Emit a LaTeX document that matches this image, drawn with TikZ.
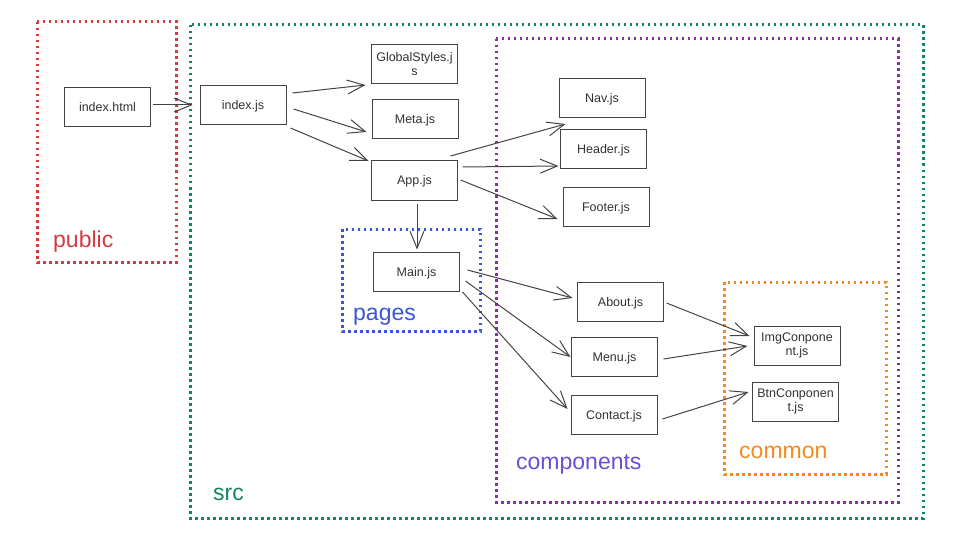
\documentclass[tikz,border=0pt]{standalone}
\usepackage{fontspec}
\setmainfont{Liberation Sans}
\usepackage{tikz}
\usetikzlibrary{
  positioning,
  calc,
  arrows.meta
}
\definecolor{publicred}{HTML}{D63A3F}
\definecolor{srcgreen}{HTML}{11875F}
\definecolor{pagesblue}{HTML}{3A55D8}
\definecolor{compviolet}{HTML}{8C2EA9}
\definecolor{complabel}{HTML}{6B4ED6}
\definecolor{commonorange}{HTML}{F5891D}
\definecolor{boxgray}{HTML}{444444}
\tikzset{jsbox/.style={
  draw=boxgray, line width=1pt,
  fill=white,
  text=black!80,
  minimum width=86pt, minimum height=39pt,
  inner sep=0pt, align=center,
  font=\fontsize{12.5}{13.5}\selectfont
}}
\tikzset{jsfile/.style={
  jsbox,
  text height=11pt, text depth=2pt
}}
\tikzset{group/.style={
  line width=3pt,
  dash pattern=on 2.5pt off 3.5pt
}}
\tikzset{grouplabel/.style={
  anchor=base west, inner sep=0pt,
  font=\fontsize{23}{26}\selectfont
}}
\tikzset{dep/.style={
  draw=boxgray, line width=1pt,
  -{Straight Barb[length=17pt,width=14pt,line width=1pt]}
}}

\begin{document}
\begin{tikzpicture}[x=1pt,y=-1pt]
  \useasboundingbox (0,0) rectangle (960,540);
  \draw [group, publicred] (37,22) rectangle (176,262);
  \draw [group, srcgreen] (190,25) rectangle (923,518);
  \draw [group, compviolet] (496,39) rectangle (898,502);
  \draw [group, pagesblue] (342,229) rectangle (480,331);
  \draw [group, commonorange] (724,282) rectangle (886,474);
  \node [grouplabel, text=publicred] (publiclabel) at (53,247) {public};
  \node [grouplabel, text=srcgreen] (srclabel) at (213,500) {src};
  \node [grouplabel, text=complabel] (complbl) at (516,469) {components};
  \node [grouplabel, text=pagesblue] (pageslabel) at (353,320) {pages};
  \node [grouplabel, text=commonorange] (commonlabel) at (739,458) {common};

  \node [jsfile] (indexhtml) at (107.5,107.5) {index.html};
  \node [jsfile] (indexjs) at (243,105.5) {index.js};
  \node [jsbox] (globalstyles) at (414.5,64) {GlobalStyles.j\\s};
  \node [jsfile] (meta) at (415,119.5) {Meta.js};
  \node [jsfile] (app) at (414.5,180.5) {App.js};
  \node [jsfile] (mainjs) at (416.5,271.5) {Main.js};
  \node [jsfile] (nav) at (602,98.5) {Nav.js};
  \node [jsfile] (header) at (603.5,149.5) {Header.js};
  \node [jsfile] (footer) at (606,206.5) {Footer.js};
  \node [jsfile] (about) at (620.5,301.5) {About.js};
  \node [jsfile] (menu) at (614.5,356.5) {Menu.js};
  \node [jsfile] (contact) at (614,414.5) {Contact.js};
  \node [jsbox] (imgcomp) at (797,345.5) {ImgConpone\\nt.js};
  \node [jsbox] (btncomp) at (795.5,401.5) {BtnConponen\\t.js};

  \draw [dep] ($(indexhtml.east)+(1.5,-2.5)$) -- ($(indexjs.west)+(-7,-0.5)$);
  \draw [dep] ($(indexjs.east)+(6,-12.5)$) -- ($(globalstyles.west)+(-5.5,21)$);
  \draw [dep] ($(indexjs.east)+(7,3.5)$) -- ($(meta.west)+(-5,12.5)$);
  \draw [dep] ($(indexjs.east)+(4,22.5)$) -- ($(app.west)+(-2.5,-19.5)$);
  \draw [dep] ($(app.east)+(-7.5,-24.5)$) -- ($(nav.west)+(7,25.5)$);
  \draw [dep] ($(app.east)+(4.5,-13.5)$) -- ($(header.west)+(-1.5,16.5)$);
  \draw [dep] ($(app.east)+(2.5,-0.5)$) -- ($(footer.west)+(-5,12.5)$);
  \draw [dep] ($(app.south)+(2.5,3)$) -- ($(mainjs.north)+(0.5,-2)$);
  \draw [dep] ($(mainjs.east)+(7.5,-1.5)$) -- ($(about.west)+(-4.5,-3.5)$);
  \draw [dep] ($(mainjs.east)+(5.5,9.5)$) -- ($(menu.west)+(-0.5,0.5)$);
  \draw [dep] ($(mainjs.east)+(2.5,20.5)$) -- ($(contact.west)+(-3,-5.5)$);
  \draw [dep] ($(about.east)+(2.5,1.5)$) -- ($(imgcomp.west)+(-4,-9.5)$);
  \draw [dep] ($(menu.east)+(5.5,2.5)$) -- ($(imgcomp.west)+(-6,0.5)$);
  \draw [dep] ($(contact.east)+(5,4.5)$) -- ($(btncomp.west)+(-3.5,-9.5)$);
\end{tikzpicture}
\end{document}
